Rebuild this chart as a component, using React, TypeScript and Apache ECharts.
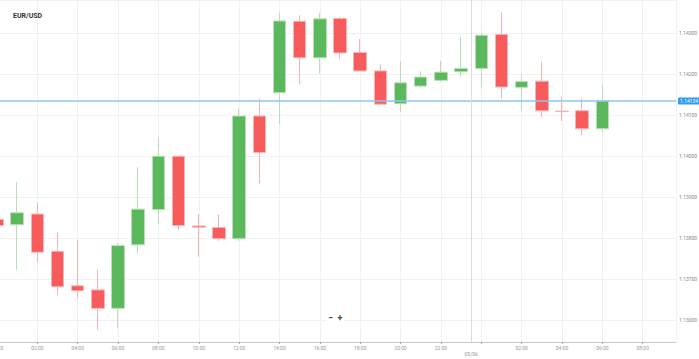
import React, { useEffect, useRef } from "react";
import * as echarts from "echarts";

// hour offset from 00:00 on 05/05
const hoursIdx = [0, 1, 2, 3, 4, 5, 6, 7, 8, 9, 10, 11, 12, 13, 14, 15, 16, 17, 18, 19, 20, 21, 22, 23, 24, 25, 26, 27, 28, 29, 30];
const opens = [1.13845, 1.13832, 1.13858, 1.13767, 1.13683, 1.13673, 1.13628, 1.13783, 1.13869, 1.13999, 1.13829, 1.13825, 1.13798, 1.14097, 1.14154, 1.14328, 1.14239, 1.14335, 1.14252, 1.14207, 1.14127, 1.1417, 1.14184, 1.14205, 1.14213, 1.14296, 1.14167, 1.14182, 1.14109, 1.1411, 1.14066];
const closes = [1.1383, 1.13861, 1.13765, 1.13681, 1.13671, 1.13628, 1.13781, 1.1387, 1.13999, 1.1383, 1.13826, 1.13798, 1.14097, 1.14008, 1.14329, 1.14239, 1.14334, 1.14251, 1.14207, 1.14126, 1.14178, 1.14192, 1.14204, 1.14213, 1.14294, 1.14168, 1.14181, 1.1411, 1.14108, 1.14066, 1.14134];
const lows = [1.13825, 1.13722, 1.1374, 1.13661, 1.13653, 1.13576, 1.13579, 1.13761, 1.13834, 1.13819, 1.13754, 1.13793, 1.13793, 1.13933, 1.14077, 1.14174, 1.14201, 1.14236, 1.14207, 1.14126, 1.14107, 1.14166, 1.1418, 1.14192, 1.14168, 1.1414, 1.14109, 1.14093, 1.14085, 1.1405, 1.14057];
const highs = [1.1385, 1.13936, 1.13885, 1.13813, 1.13795, 1.13722, 1.13787, 1.13972, 1.14045, 1.14, 1.13858, 1.13857, 1.14115, 1.1414, 1.14349, 1.14343, 1.14349, 1.14339, 1.14285, 1.14223, 1.14231, 1.14206, 1.14232, 1.1429, 1.14299, 1.1435, 1.14199, 1.14229, 1.14145, 1.1414, 1.14174];

const xTickLabels = ["00:00", "02:00", "04:00", "06:00", "08:00", "10:00", "12:00", "14:00", "16:00", "18:00", "20:00", "22:00", "", "02:00", "04:00", "06:00", "08:00"];
const currentPrice = 1.14134;
const dayBreakPos = 23.5;
const dayBreakLabel = "05/06";
const title = "EUR/USD";

export default function App() {
  const ref = useRef<HTMLDivElement>(null);
  useEffect(() => {
    if (!ref.current) return;
    const chart = echarts.init(ref.current, null, { renderer: "svg" });
    const data = hoursIdx.map((h, i) => [h, opens[i], closes[i], lows[i], highs[i]]);
    chart.setOption({
      animation: false,
      backgroundColor: "#ffffff",
      title: {
        text: title,
        left: 8,
        top: 7,
        textStyle: { fontSize: 7, fontWeight: "bold", color: "#333", fontFamily: "Roboto" },
      },
      grid: { left: -3, right: 23, top: 0, bottom: 17, containLabel: false, outerBoundsMode: "none" },
      xAxis: {
        type: "value",
        min: 0,
        max: 33.65,
        interval: 2,
        axisLine: { show: true, lineStyle: { color: "#c8c8c8" } },
        axisTick: { show: true, length: 2, lineStyle: { color: "#aaa" } },
        axisLabel: {
          fontSize: 5,
          color: "#999",
          margin: 3,
          fontFamily: "Roboto",
          showMaxLabel: false,
          hideOverlap: false,
          formatter: (v: number) => {
            if (Math.abs(v - Math.round(v)) > 1e-6) return "";
            const k = Math.round(v) / 2;
            return xTickLabels[k] ?? "";
          },
        },
        splitLine: { show: true, lineStyle: { color: "#f1f1f1" } },
      },
      yAxis: {
        type: "value",
        position: "right",
        min: 1.13546,
        max: 1.1438,
        splitNumber: 8,
        scale: true,
        axisLine: { show: true, lineStyle: { color: "#aaa" } },
        axisTick: { show: true, length: 2, lineStyle: { color: "#aaa" } },
        axisLabel: {
          fontSize: 5,
          color: "#888",
          margin: 3,
          fontFamily: "Roboto",
          showMinLabel: false,
          showMaxLabel: false,
          formatter: (v: number) => v.toFixed(5),
        },
        splitLine: { show: true, lineStyle: { color: "#f1f1f1" } },
      },
      series: [
        {
          type: "candlestick",
          data,
          encode: { x: 0, y: [1, 2, 3, 4] },
          barWidth: 13,
          itemStyle: {
            color: "#5cb85c",
            color0: "#f75b5b",
            borderColor: "#b8dfb8",
            borderColor0: "#f9b2b2",
            borderWidth: 1,
          },
          markLine: {
            symbol: "none",
            silent: true,
            precision: 5,
            data: [
              {
                yAxis: currentPrice,
                lineStyle: { color: "#8cc6f0", width: 1.5, type: "solid" },
                label: {
                  show: true,
                  position: "end",
                  distance: 2,
                  formatter: currentPrice.toFixed(5),
                  color: "#fff",
                  fontSize: 5,
                  fontFamily: "Roboto",
                  backgroundColor: "#2f9bef",
                  padding: [1, 2],
                  borderRadius: 1,
                },
              },
              {
                xAxis: dayBreakPos,
                lineStyle: { color: "#dcdcdc", width: 1, type: "solid" },
                label: {
                  show: true,
                  position: "start",
                  distance: 9,
                  formatter: dayBreakLabel,
                  color: "#999",
                  fontSize: 5,
                  fontFamily: "Roboto",
                },
              },
            ],
          },
        },
      ],
      graphic: [
        {
          type: "text",
          x: 326,
          y: 312,
          z: 100,
          style: {
            text: "−  +",
            fontSize: 9,
            fontWeight: "bold",
            fill: "#444",
            fontFamily: "Roboto",
            verticalAlign: "top",
            backgroundColor: "#ffffff",
            padding: [1, 2],
          },
        },
      ],
    });
    return () => chart.dispose();
  }, []);
  return (
    <div
      ref={ref}
      style={{ position: "fixed", left: 0, top: 0, width: 699, height: 359 }}
    />
  );
}
